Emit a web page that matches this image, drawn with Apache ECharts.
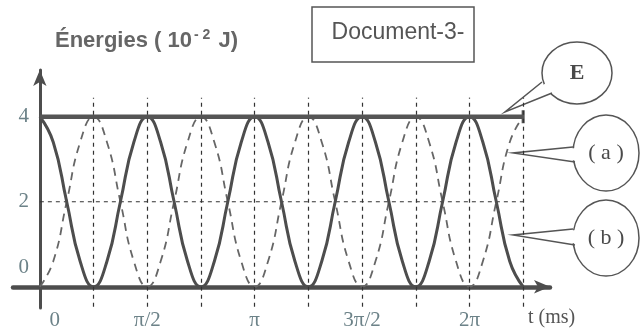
<!DOCTYPE html>
<html>
<head>
<meta charset="utf-8">
<script src="https://cdn.jsdelivr.net/npm/echarts@6/dist/echarts.min.js"></script>
<style>
html, body { margin: 0; padding: 0; background: #fff; }
#chart { width: 642px; height: 335px; }
</style>
</head>
<body>
<div id="chart"></div>
<script>
// axe du temps en pas de π/4 (1 unité = une ligne pointillée)
var tValues = [0, 0.25, 0.5, 0.75, 1, 1.25, 1.5, 1.75, 2, 2.25, 2.5, 2.75, 3, 3.25, 3.5, 3.75, 4,
    4.25, 4.5, 4.75, 5, 5.25, 5.5, 5.75, 6, 6.25, 6.5, 6.75, 7, 7.25, 7.5, 7.75, 8, 8.25, 8.5, 8.75, 9];
// courbe (a) en pointillés
var curveA = [0, 0.6, 2, 3.4, 4, 3.4, 2, 0.6, 0, 0.6, 2, 3.4, 4, 3.4, 2, 0.6, 0,
    0.6, 2, 3.4, 4, 3.4, 2, 0.6, 0, 0.6, 2, 3.4, 4, 3.4, 2, 0.6, 0, 0.6, 2, 3.4, 4];
// courbe (b) en trait plein
var curveB = [4, 3.4, 2, 0.6, 0, 0.6, 2, 3.4, 4, 3.4, 2, 0.6, 0, 0.6, 2, 3.4, 4,
    3.4, 2, 0.6, 0, 0.6, 2, 3.4, 4, 3.4, 2, 0.6, 0, 0.6, 2, 3.4, 4, 3.4, 2, 0.6, 0];
// énergie totale E
var totalT = [0, 9];
var totalE = [4, 4];
var gridX = [1, 2, 3, 4, 5, 6, 7, 8, 9];
var midLevel = 2;
var xTicks = [0, 2, 4, 6, 8];
var xTickLabels = ['0', 'π/2', 'π', '3π/2', '2π'];
var yTicks = [0, 2, 4];

var serif = '"Liberation Serif", "Times New Roman", serif';
var sans = '"Liberation Sans", Arial, sans-serif';
var axisColor = '#4d4d4d';
var labelColor = '#6c8288';

function pairs(xs, ys) {
    return xs.map(function (x, i) { return [x, ys[i]]; });
}

// bulle d'annotation : ellipse + pointe
function balloon(cx, cy, rx, ry, tip, up, low, text, font) {
    return {
        type: 'group',
        children: [
            {type: 'ellipse', shape: {cx: cx, cy: cy, rx: rx, ry: ry},
                style: {fill: '#fff', stroke: '#555', lineWidth: 1.5}},
            {type: 'polygon', shape: {points: [tip, [up[0] + 4, up[1] + 1], [low[0] + 4, low[1] - 1]]},
                style: {fill: '#fff'}},
            {type: 'polyline', shape: {points: [up, tip, low]},
                style: {stroke: '#555', lineWidth: 1.5, fill: null}},
            {type: 'text', x: cx, y: cy,
                style: {text: text, font: font, fill: '#4a4a4a', align: 'center', verticalAlign: 'middle'}}
        ]
    };
}

var chart = echarts.init(document.getElementById('chart'));

var vLines = gridX.map(function (x) {
    return [{coord: [x, -0.47]}, {coord: [x, 4.45]}];
});

chart.setOption({
    backgroundColor: '#fff',
    animation: false,
    title: {
        text: 'Énergies ( 10{sup|- 2} J)',
        left: 55,
        top: 28,
        padding: 0,
        textStyle: {
            fontFamily: sans, fontSize: 22, fontWeight: 'bold', color: '#666',
            rich: {
                sup: {fontFamily: sans, fontSize: 14, fontWeight: 'bold', color: '#666',
                    verticalAlign: 'top', padding: [0, 2, 12, 2]}
            }
        }
    },
    grid: {left: 13, right: 92, top: 70, bottom: 27, outerBoundsMode: 'none'},
    xAxis: {
        type: 'value',
        min: -0.5,
        max: 9.5,
        interval: 0.5,
        axisLine: {
            symbol: ['none', 'arrow'], symbolSize: [10, 16],
            lineStyle: {color: axisColor, width: 4.5}
        },
        axisTick: {show: false},
        splitLine: {show: false},
        axisLabel: {
            // les étiquettes se placent depuis le bord de la grille
            margin: 2,
            color: labelColor,
            fontFamily: serif,
            fontSize: 21,
            formatter: function (v) {
                var i = xTicks.indexOf(v);
                if (i < 0) {
                    return '';
                }
                return v === 0 ? '{o|' + xTickLabels[i] + '}' : xTickLabels[i];
            },
            rich: {o: {fontFamily: serif, fontSize: 21, color: labelColor, padding: [0, 0, 0, 30]}}
        }
    },
    yAxis: {
        type: 'value',
        min: -0.5,
        max: 5.1,
        interval: 0.5,
        axisLine: {
            symbol: ['none', 'arrow'], symbolSize: [10, 16],
            lineStyle: {color: axisColor, width: 3}
        },
        axisTick: {show: false},
        splitLine: {show: false},
        axisLabel: {
            margin: -16,
            color: labelColor,
            fontFamily: serif,
            fontSize: 21,
            formatter: function (v) {
                if (yTicks.indexOf(v) < 0) {
                    return '';
                }
                return v === 0 ? '{o|0}' : String(v);
            },
            rich: {o: {fontFamily: serif, fontSize: 21, color: labelColor, padding: [0, 0, 38, 0]}}
        }
    },
    series: [
        {
            type: 'line',
            data: [[0, midLevel], [9, midLevel]],
            showSymbol: false,
            silent: true,
            z: 1,
            lineStyle: {color: '#333', width: 1.2, type: [4, 4]},
            markLine: {
                symbol: 'none',
                silent: true,
                label: {show: false},
                lineStyle: {color: '#333', width: 1.2, type: [4, 4]},
                data: vLines
            }
        },
        {
            name: '(a)',
            type: 'line',
            data: pairs(tValues, curveA),
            smooth: 0.5,
            showSymbol: false,
            z: 2,
            lineStyle: {color: '#666', width: 1.8, type: [8, 6]}
        },
        {
            name: '(b)',
            type: 'line',
            data: pairs(tValues, curveB),
            smooth: 0.5,
            showSymbol: false,
            z: 3,
            lineStyle: {color: '#4d4d4d', width: 3}
        },
        {
            name: 'E',
            type: 'line',
            data: pairs(totalT, totalE).map(function (p, i) {
                return i === totalT.length - 1
                    ? {value: p, symbol: 'rect', symbolSize: [3, 13]}
                    : {value: p, symbol: 'none'};
            }),
            z: 4,
            itemStyle: {color: '#555'},
            lineStyle: {color: '#555', width: 4.5}
        }
    ],
    graphic: [
        {type: 'rect', shape: {x: 312, y: 7, width: 162, height: 55},
            style: {fill: '#fff', stroke: '#555', lineWidth: 1.5}},
        {type: 'text', x: 398, y: 33,
            style: {text: 'Document-3-', font: '23px ' + sans, fill: '#555', align: 'center', verticalAlign: 'middle'}},
        balloon(577, 73, 35, 31, [505, 112], [542, 82], [552, 93], 'E', 'bold 22px ' + serif),
        balloon(606, 153, 33, 38, [513, 153], [573, 147], [575, 162], '( a )', '22px ' + serif),
        balloon(606, 238, 33, 38, [513, 235], [573, 229], [575, 245], '( b )', '22px ' + serif),
        {type: 'text', x: 528, y: 318,
            style: {text: 't (ms)', font: '20px ' + serif, fill: '#555', align: 'left', verticalAlign: 'middle'}}
    ]
});
</script>
</body>
</html>
